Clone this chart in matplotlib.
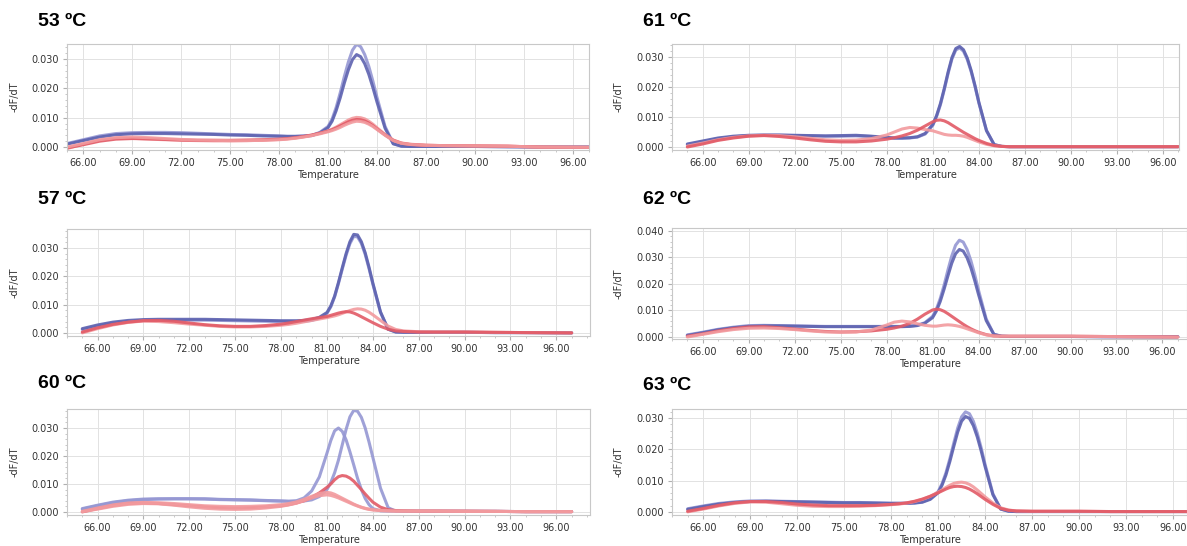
import numpy as np
import matplotlib
matplotlib.use("Agg")
import matplotlib.pyplot as plt
from matplotlib.ticker import MultipleLocator, FormatStrFormatter

# temperature grid shared by all melt curves (finer around the peaks)
temps = [65, 66, 67, 68, 69, 70, 71, 72, 73, 74, 75, 76, 77, 78, 78.5, 79, 79.5, 80, 80.5, 81,
         81.25, 81.5, 81.75, 82, 82.25, 82.5, 82.75, 83, 83.25, 83.5, 83.75, 84,
         84.5, 85, 85.5, 86, 87, 88, 90, 92, 94, 97]

# -dF/dT values in units of 0.001
blue_53a = [1.2, 2.5, 3.8, 4.6, 4.9, 5.0, 5.0, 4.9, 4.7, 4.5, 4.3, 4.2, 4.0, 3.8, 3.7, 3.7, 3.8, 4.0, 5.0, 7.0,
            9.5, 13.5, 18.5, 24.0, 29.0, 33.0, 35.0, 34.2, 31.5, 27.5, 22.5, 17.0,
            7.0, 1.2, 0.3, 0.2, 0.2, 0.2, 0.2, 0.1, 0.0, 0.0]
blue_53b = [1.0, 2.2, 3.4, 4.2, 4.5, 4.6, 4.6, 4.5, 4.4, 4.3, 4.1, 4.0, 3.8, 3.7, 3.6, 3.6, 3.7, 3.9, 4.8, 6.6,
            8.8, 12.4, 16.8, 21.8, 26.3, 29.8, 31.5, 30.8, 28.4, 24.8, 20.3, 15.4,
            6.4, 1.1, 0.3, 0.2, 0.2, 0.2, 0.2, 0.1, 0.0, 0.0]
red_53a = [-0.5, 1.0, 2.3, 3.0, 3.0, 2.7, 2.5, 2.3, 2.2, 2.1, 2.1, 2.2, 2.3, 2.6, 2.8, 3.1, 3.5, 4.0, 4.7, 5.5,
           6.1, 6.8, 7.6, 8.4, 9.2, 9.8, 10.1, 10.0, 9.6, 8.8, 7.8, 6.6,
           4.3, 2.4, 1.4, 1.0, 0.6, 0.5, 0.4, 0.3, 0.0, -0.1]
red_53b = [-0.3, 0.8, 2.0, 2.7, 2.9, 2.8, 2.6, 2.4, 2.3, 2.3, 2.3, 2.4, 2.5, 2.7, 2.9, 3.2, 3.6, 4.1, 4.7, 5.4,
           5.9, 6.5, 7.2, 7.9, 8.6, 9.1, 9.4, 9.3, 8.9, 8.2, 7.3, 6.2,
           4.1, 2.3, 1.3, 0.9, 0.6, 0.5, 0.4, 0.3, 0.0, -0.1]
red_53c = [0.0, 1.2, 2.5, 3.2, 3.4, 3.2, 2.9, 2.6, 2.4, 2.3, 2.2, 2.2, 2.3, 2.5, 2.7, 3.0, 3.4, 3.9, 4.5, 5.2,
           5.6, 6.1, 6.7, 7.4, 8.0, 8.5, 8.8, 8.7, 8.4, 7.8, 7.0, 6.0,
           4.0, 2.2, 1.3, 0.9, 0.6, 0.5, 0.4, 0.3, 0.0, -0.1]

blue_57a = [1.5, 2.8, 3.8, 4.4, 4.7, 4.8, 4.8, 4.8, 4.8, 4.7, 4.6, 4.5, 4.4, 4.3, 4.3, 4.3, 4.4, 4.7, 5.5, 7.2,
            9.5, 13.0, 17.8, 23.0, 28.0, 32.2, 34.8, 34.6, 32.2, 28.3, 23.2, 17.6,
            7.4, 1.3, 0.3, 0.2, 0.2, 0.2, 0.2, 0.1, 0.1, 0.0]
blue_57b = [1.2, 2.5, 3.5, 4.1, 4.4, 4.5, 4.5, 4.5, 4.5, 4.4, 4.3, 4.2, 4.1, 4.0, 4.0, 4.0, 4.1, 4.4, 5.2, 6.9,
            9.2, 12.7, 17.4, 22.5, 27.4, 31.5, 34.1, 33.9, 31.6, 27.7, 22.7, 17.2,
            7.2, 1.3, 0.3, 0.2, 0.2, 0.2, 0.2, 0.1, 0.1, 0.0]
red_57a = [0.0, 1.5, 2.8, 3.7, 4.2, 4.0, 3.6, 3.1, 2.7, 2.3, 2.1, 2.1, 2.3, 2.7, 3.0, 3.4, 3.9, 4.4, 4.9, 5.4,
           5.7, 6.0, 6.4, 6.9, 7.4, 7.9, 8.3, 8.5, 8.4, 8.0, 7.3, 6.4,
           4.4, 2.4, 1.2, 0.7, 0.4, 0.3, 0.3, 0.2, 0.1, 0.0]
red_57b = [0.3, 1.8, 3.0, 3.8, 4.3, 4.4, 4.1, 3.5, 2.9, 2.5, 2.3, 2.3, 2.6, 3.1, 3.5, 4.0, 4.5, 5.0, 5.4, 5.8,
           6.2, 6.6, 7.0, 7.3, 7.5, 7.4, 7.0, 6.4, 5.7, 5.0, 4.3, 3.6,
           2.3, 1.3, 0.7, 0.5, 0.3, 0.3, 0.3, 0.2, 0.1, 0.0]

blue_60a = [1.0, 2.2, 3.3, 4.0, 4.4, 4.6, 4.7, 4.7, 4.7, 4.5, 4.4, 4.3, 4.1, 3.9, 3.8, 4.0, 5.0, 7.5, 12.5, 21.0,
            25.5, 29.0, 30.0, 28.8, 25.8, 21.5, 16.8, 12.0, 8.0, 4.8, 2.6, 1.2,
            0.4, 0.3, 0.3, 0.3, 0.3, 0.3, 0.2, 0.2, 0.1, 0.1]
blue_60b = [1.2, 2.4, 3.5, 4.2, 4.6, 4.7, 4.7, 4.7, 4.6, 4.4, 4.3, 4.2, 4.0, 3.9, 3.8, 3.8, 3.9, 4.3, 5.5, 8.0,
            10.5, 14.0, 18.5, 24.0, 29.5, 34.0, 36.3, 36.0, 33.8, 30.0, 25.0, 19.5,
            8.5, 1.5, 0.3, 0.2, 0.2, 0.2, 0.2, 0.2, 0.1, 0.1]
red_60a = [0.0, 1.2, 2.3, 3.0, 3.2, 3.0, 2.6, 2.2, 1.8, 1.5, 1.4, 1.5, 1.8, 2.2, 2.6, 3.2, 4.0, 5.2, 6.8, 8.8,
           10.0, 11.5, 12.6, 13.0, 12.8, 12.1, 11.0, 9.5, 8.0, 6.4, 4.9, 3.5,
           1.7, 0.8, 0.5, 0.4, 0.3, 0.3, 0.3, 0.2, 0.1, 0.1]
red_60b = [0.2, 1.4, 2.5, 3.2, 3.4, 3.3, 3.0, 2.6, 2.2, 2.0, 1.9, 2.0, 2.2, 2.6, 3.0, 3.6, 4.5, 5.6, 6.6, 7.0,
           6.8, 6.3, 5.6, 4.9, 4.2, 3.5, 2.8, 2.2, 1.7, 1.3, 1.0, 0.8,
           0.5, 0.4, 0.3, 0.3, 0.3, 0.3, 0.2, 0.2, 0.1, 0.1]
red_60c = [0.1, 1.0, 2.0, 2.7, 3.0, 2.9, 2.4, 1.8, 1.3, 1.0, 0.9, 1.0, 1.4, 2.0, 2.5, 3.1, 4.0, 5.0, 5.8, 6.1,
           5.9, 5.5, 5.0, 4.4, 3.8, 3.2, 2.6, 2.1, 1.6, 1.2, 0.9, 0.7,
           0.5, 0.4, 0.3, 0.3, 0.3, 0.3, 0.2, 0.2, 0.1, 0.1]

blue_61a = [1.0, 2.0, 3.0, 3.6, 3.9, 4.0, 4.0, 3.9, 3.8, 3.7, 3.8, 3.9, 3.6, 3.2, 3.0, 3.0, 3.1, 3.4, 4.5, 7.5,
            10.5, 14.5, 19.5, 25.0, 29.8, 32.8, 33.5, 32.4, 29.6, 25.5, 20.5, 15.0,
            5.5, 0.8, 0.2, 0.1, 0.1, 0.1, 0.1, 0.1, 0.1, 0.1]
blue_61b = [0.8, 1.8, 2.8, 3.4, 3.8, 3.9, 3.9, 3.8, 3.7, 3.6, 3.6, 3.7, 3.5, 3.1, 2.9, 2.9, 3.0, 3.3, 4.3, 7.2,
            10.2, 14.1, 19.1, 24.5, 29.3, 32.3, 33.0, 31.9, 29.1, 25.1, 20.2, 14.7,
            5.4, 0.8, 0.2, 0.1, 0.1, 0.1, 0.1, 0.1, 0.1, 0.1]
red_61a = [0.3, 1.3, 2.4, 3.2, 3.7, 3.9, 3.8, 3.4, 2.9, 2.4, 2.2, 2.3, 2.8, 4.0, 5.0, 6.0, 6.5, 6.3, 5.8, 5.4,
           5.0, 4.6, 4.2, 4.0, 3.9, 3.9, 3.8, 3.6, 3.2, 2.7, 2.2, 1.7,
           0.9, 0.4, 0.2, 0.1, 0.1, 0.1, 0.1, 0.1, 0.1, 0.1]
red_61b = [0.0, 1.0, 2.2, 3.0, 3.6, 3.8, 3.5, 3.0, 2.4, 1.9, 1.7, 1.7, 2.0, 2.6, 3.1, 3.7, 4.5, 5.6, 7.0, 8.4,
           8.9, 9.0, 8.7, 8.1, 7.3, 6.5, 5.7, 4.9, 4.2, 3.5, 2.8, 2.2,
           1.2, 0.5, 0.2, 0.1, 0.1, 0.1, 0.1, 0.1, 0.1, 0.1]

blue_62a = [0.8, 1.8, 2.9, 3.7, 4.3, 4.4, 4.3, 4.2, 4.1, 4.0, 4.0, 4.0, 4.0, 4.0, 4.0, 4.0, 4.1, 4.4, 5.4, 7.8,
            10.5, 14.5, 19.5, 25.2, 30.5, 34.6, 36.5, 35.8, 33.0, 28.8, 23.5, 17.6,
            6.8, 1.0, 0.3, 0.2, 0.2, 0.2, 0.2, 0.1, 0.1, 0.1]
blue_62b = [0.6, 1.6, 2.7, 3.5, 4.0, 4.2, 4.2, 4.1, 4.0, 3.9, 3.9, 3.9, 3.9, 3.9, 3.9, 3.9, 4.0, 4.3, 5.2, 7.3,
            9.8, 13.4, 18.0, 23.0, 27.8, 31.4, 33.0, 32.4, 29.9, 26.1, 21.3, 16.0,
            6.2, 1.0, 0.3, 0.2, 0.2, 0.2, 0.2, 0.1, 0.1, 0.1]
red_62a = [0.3, 1.2, 2.3, 3.2, 3.8, 3.9, 3.5, 3.0, 2.5, 2.1, 1.9, 2.0, 2.3, 2.9, 3.4, 4.1, 5.1, 6.7, 8.6, 10.2,
           10.5, 10.3, 9.7, 8.8, 7.8, 6.8, 5.8, 4.8, 3.9, 3.1, 2.4, 1.8,
           0.9, 0.4, 0.3, 0.3, 0.3, 0.3, 0.3, 0.2, 0.1, 0.0]
red_62b = [0.0, 1.0, 2.0, 2.8, 3.3, 3.4, 3.2, 2.8, 2.3, 1.9, 1.8, 1.9, 2.6, 4.5, 5.6, 6.0, 5.7, 5.0, 4.4, 4.1,
           4.1, 4.3, 4.5, 4.6, 4.5, 4.3, 4.0, 3.6, 3.1, 2.6, 2.1, 1.6,
           0.8, 0.4, 0.3, 0.3, 0.3, 0.3, 0.3, 0.2, 0.1, 0.0]

blue_63a = [1.0, 1.9, 2.7, 3.2, 3.5, 3.5, 3.4, 3.3, 3.2, 3.1, 3.0, 3.0, 2.9, 2.8, 2.8, 2.8, 2.9, 3.2, 4.2, 6.5,
            9.0, 12.5, 17.0, 22.0, 26.8, 30.4, 32.0, 31.4, 29.0, 25.2, 20.5, 15.2,
            5.8, 0.9, 0.2, 0.1, 0.1, 0.1, 0.1, 0.1, 0.1, 0.1]
blue_63b = [0.8, 1.7, 2.5, 3.0, 3.3, 3.4, 3.3, 3.2, 3.1, 3.0, 2.9, 2.9, 2.8, 2.7, 2.7, 2.7, 2.8, 3.1, 4.0, 6.1,
            8.5, 11.8, 16.1, 20.9, 25.5, 29.0, 30.5, 29.9, 27.6, 24.0, 19.5, 14.5,
            5.5, 0.9, 0.2, 0.1, 0.1, 0.1, 0.1, 0.1, 0.1, 0.1]
red_63a = [0.0, 0.9, 1.9, 2.7, 3.2, 3.1, 2.6, 2.1, 1.8, 1.7, 1.7, 1.8, 2.0, 2.3, 2.5, 2.8, 3.3, 4.0, 5.0, 6.3,
           7.0, 7.8, 8.5, 9.1, 9.4, 9.5, 9.3, 8.8, 8.0, 7.0, 5.9, 4.8,
           2.8, 1.3, 0.6, 0.3, 0.2, 0.2, 0.2, 0.1, 0.1, 0.1]
red_63b = [0.2, 1.1, 2.1, 2.9, 3.3, 3.3, 3.0, 2.5, 2.2, 2.0, 2.0, 2.0, 2.1, 2.4, 2.6, 2.9, 3.4, 4.1, 5.0, 6.1,
           6.7, 7.3, 7.8, 8.1, 8.2, 8.1, 7.8, 7.3, 6.6, 5.8, 4.9, 4.0,
           2.4, 1.1, 0.5, 0.3, 0.2, 0.2, 0.2, 0.1, 0.1, 0.1]

titles = ["53 ºC", "61 ºC", "57 ºC", "62 ºC", "60 ºC", "63 ºC"]

BLUE_DARK = "#5d62b0"
BLUE_LIGHT = "#9597d3"
RED = "#e25a66"
PINK = "#f29a9e"

panels = [
    # (title, blue curves, red curves, pixel box l,t,r,b, title y, xlim, ylim, top y tick)
    (titles[0], [(blue_53a, BLUE_LIGHT), (blue_53b, BLUE_DARK)],
     [(red_53a, PINK), (red_53b, RED), (red_53c, PINK)],
     (67, 44, 589, 150), 22, (65, 97.0), (-0.001, 0.0351), 0.030),
    (titles[1], [(blue_61b, BLUE_LIGHT), (blue_61a, BLUE_DARK)],
     [(red_61a, PINK), (red_61b, RED)],
     (672, 44, 1179, 150), 22, (64, 97.05), (-0.001, 0.0343), 0.030),
    (titles[2], [(blue_57b, BLUE_LIGHT), (blue_57a, BLUE_DARK)],
     [(red_57a, PINK), (red_57b, RED)],
     (67, 229, 590, 336), 199, (64, 98.2), (-0.0011, 0.0367), 0.030),
    (titles[3], [(blue_62a, BLUE_LIGHT), (blue_62b, BLUE_DARK)],
     [(red_62a, RED), (red_62b, PINK)],
     (672, 228, 1187, 339), 199, (64, 97.6), (-0.00075, 0.0411), 0.040),
    (titles[4], [(blue_60a, BLUE_LIGHT), (blue_60b, BLUE_LIGHT)],
     [(red_60a, RED), (red_60b, PINK), (red_60c, PINK)],
     (67, 409, 590, 515), 384, (64, 98.2), (-0.0011, 0.0368), 0.030),
    (titles[5], [(blue_63a, BLUE_LIGHT), (blue_63b, BLUE_DARK)],
     [(red_63a, PINK), (red_63b, RED)],
     (672, 409, 1187, 515), 386, (64, 96.9), (-0.001, 0.0329), 0.030),
]

W, H = 1187, 546
fig = plt.figure(figsize=(W / 100, H / 100), dpi=100)
fig.patch.set_facecolor("white")

t = np.array(temps)
for title, blues, reds, box, ty, xlim, ylim, ytop in panels:
    l, tp, r, b = box
    ax = fig.add_axes([l / W, 1 - b / H, (r - l) / W, (b - tp) / H])
    for vals, col in blues + reds:
        ax.plot(t, np.array(vals) * 1e-3, color=col, lw=2.2, alpha=0.9,
                solid_joinstyle="round", solid_capstyle="round")
    ax.set_xlim(*xlim)
    ax.set_ylim(*ylim)
    ax.set_xticks(np.arange(66, 97, 3))
    ax.set_yticks(np.arange(0, ytop + 0.0001, 0.010))
    ax.xaxis.set_minor_locator(MultipleLocator(1))
    ax.yaxis.set_minor_locator(MultipleLocator(0.002))
    ax.xaxis.set_major_formatter(FormatStrFormatter("%.2f"))
    ax.yaxis.set_major_formatter(FormatStrFormatter("%.3f"))
    ax.grid(True, which="major", color="#e2e2e2", lw=0.7)
    ax.set_axisbelow(True)
    for sp in ax.spines.values():
        sp.set_color("#c8c8c8")
        sp.set_linewidth(0.8)
    ax.tick_params(which="major", length=3, color="#b0b0b0", labelsize=7,
                   labelcolor="#333333", pad=3)
    ax.tick_params(which="minor", length=1.5, color="#c0c0c0")
    ax.set_xlabel("Temperature", fontsize=7, color="#333333", labelpad=1)
    ax.set_ylabel("-dF/dT", fontsize=7, color="#333333")
    ax.yaxis.set_label_coords(-(l - (20 if l < 600 else 624)) / (r - l), 0.5)
    fig.text((l - 29) / W, 1 - ty / H, title, fontsize=14, fontweight="bold",
             family="Liberation Sans", ha="left", va="center")

fig.savefig("out.png", dpi=100)
